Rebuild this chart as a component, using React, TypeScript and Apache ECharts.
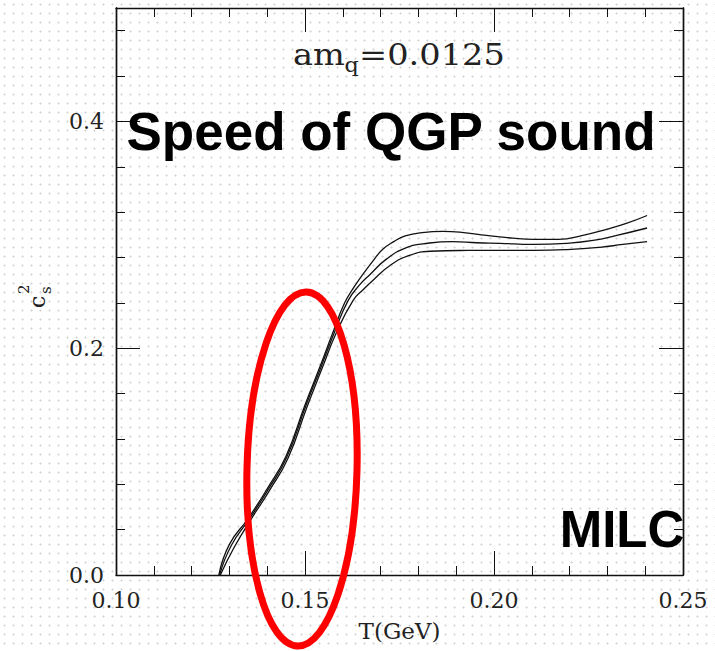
import React, { useEffect, useRef } from "react";
import * as echarts from "echarts";

// ---- data (T in GeV, c_s^2) ----
const tUpper = [0.1272, 0.13, 0.135, 0.14, 0.145, 0.15, 0.154, 0.1575, 0.1605, 0.163, 0.1655, 0.168, 0.1705, 0.1735, 0.1765, 0.181, 0.1865, 0.192, 0.198, 0.205, 0.2105, 0.217, 0.2235, 0.23, 0.235, 0.2405];
const cUpper = [0.0, 0.027, 0.05, 0.076, 0.105, 0.15, 0.184, 0.215, 0.24, 0.254, 0.266, 0.277, 0.287, 0.294, 0.299, 0.302, 0.303, 0.302, 0.2995, 0.297, 0.296, 0.296, 0.2995, 0.305, 0.31, 0.317];

const tMiddle = [0.1274, 0.1305, 0.1352, 0.1402, 0.1452, 0.1502, 0.1542, 0.1578, 0.1614, 0.1645, 0.1672, 0.1717, 0.177, 0.1812, 0.189, 0.1955, 0.2016, 0.2103, 0.2193, 0.2262, 0.2325, 0.2405];
const cMiddle = [0.0, 0.026, 0.049, 0.075, 0.104, 0.149, 0.183, 0.214, 0.242, 0.256, 0.265, 0.279, 0.289, 0.292, 0.294, 0.293, 0.2925, 0.2915, 0.2925, 0.295, 0.2995, 0.306];

const tLower = [0.1276, 0.1312, 0.1355, 0.1405, 0.1455, 0.1505, 0.1545, 0.1582, 0.1627, 0.1655, 0.168, 0.1725, 0.1778, 0.1831, 0.193, 0.2016, 0.2103, 0.2193, 0.228, 0.2341, 0.2405];
const cLower = [0.0, 0.024, 0.048, 0.074, 0.103, 0.148, 0.182, 0.213, 0.242, 0.252, 0.26, 0.273, 0.282, 0.2855, 0.2862, 0.2863, 0.2863, 0.287, 0.289, 0.2915, 0.294];

// axis ranges / ticks
const xRange = [0.1, 0.25];
const xMajorStep = 0.05;
const yRange = [0, 0.5];
const yMajorStep = 0.2;
const yMinorStep = 0.04;

// annotation texts
const headline = "Speed of QGP sound";
const groupLabel = "MILC";
const massMain = "am";
const massSub = "q";
const massValue = "=0.0125";
const xName = "T(GeV)";

const zip = (t: number[], c: number[]) => t.map((v, i) => [v, c[i]]);

const INK = "#111";
const SERIF = "DejaVu Serif";

export default function App() {
  const ref = useRef<HTMLDivElement>(null);

  useEffect(() => {
    if (!ref.current) return;
    const chart = echarts.init(ref.current, null, { renderer: "svg" });

    const lineAxis = { show: true, onZero: false, lineStyle: { color: INK, width: 1.4 } };
    const tickStyle = { color: INK, width: 1 };

    const xBase = (pos: "bottom" | "top", labels: boolean) => ({
      type: "value",
      position: pos,
      min: xRange[0],
      max: xRange[1],
      interval: xMajorStep,
      axisLine: lineAxis,
      axisTick: { show: true, inside: true, length: 24, lineStyle: tickStyle },
      minorTick: { show: true, splitNumber: 5, length: 9, lineStyle: tickStyle },
      splitLine: { show: false },
      minorSplitLine: { show: false },
      axisLabel: labels
        ? {
            show: true,
            margin: 14,
            fontFamily: SERIF,
            fontSize: 22,
            color: "#222",
            formatter: (v: number) => v.toFixed(2),
          }
        : { show: false },
      ...(labels
        ? {
            name: xName,
            nameLocation: "middle",
            nameGap: 44,
            nameTextStyle: { fontFamily: SERIF, fontSize: 23, color: "#222" },
          }
        : {}),
    });

    const yBase = (pos: "left" | "right", step: number, len: number, labels: boolean) => ({
      type: "value",
      position: pos,
      min: yRange[0],
      max: yRange[1],
      interval: step,
      axisLine: lineAxis,
      axisTick: { show: true, inside: true, length: len, lineStyle: tickStyle },
      splitLine: { show: false },
      axisLabel: labels
        ? {
            show: true,
            margin: 12,
            fontFamily: SERIF,
            fontSize: 22,
            color: "#222",
            formatter: (v: number) => (v > 0.45 ? "" : v.toFixed(1)),
          }
        : { show: false },
    });

    const seriesStyle = (data: number[][]) => ({
      type: "line",
      data,
      xAxisIndex: 0,
      yAxisIndex: 0,
      showSymbol: false,
      smooth: 0.5,
      lineStyle: { color: INK, width: 1.3 },
      z: 3,
    });

    chart.setOption({
      animation: false,
      backgroundColor: "transparent",
      grid: { left: 116, right: 32, top: 8, bottom: 76, containLabel: false },
      xAxis: [xBase("bottom", true), xBase("top", false)],
      yAxis: [
        yBase("left", yMajorStep, 24, true),
        yBase("left", yMinorStep, 9, false),
        yBase("right", yMajorStep, 24, false),
        yBase("right", yMinorStep, 9, false),
      ],
      series: [
        seriesStyle(zip(tUpper, cUpper)),
        seriesStyle(zip(tMiddle, cMiddle)),
        seriesStyle(zip(tLower, cLower)),
      ],
      graphic: [
        {
          type: "ellipse",
          z: 50,
          x: 302,
          y: 469,
          rotation: -0.025,
          shape: { cx: 0, cy: 0, rx: 55, ry: 177 },
          style: { fill: "none", stroke: "#ff0000", lineWidth: 7 },
        },
        {
          type: "text",
          z: 60,
          x: 391,
          y: 131,
          style: {
            text: headline,
            fontFamily: "Liberation Sans",
            fontWeight: "bold",
            fontSize: 53,
            fill: "#000",
            align: "center",
            verticalAlign: "middle",
          },
        },
        {
          type: "text",
          z: 60,
          x: 622,
          y: 529,
          style: {
            text: groupLabel,
            fontFamily: "Liberation Sans",
            fontWeight: "bold",
            fontSize: 51,
            fill: "#000",
            align: "center",
            verticalAlign: "middle",
          },
        },
        {
          type: "group",
          x: 293,
          y: 55,
          scaleX: 1.12,
          z: 60,
          children: [
            {
              type: "text",
              x: 0,
              y: 0,
              style: { text: massMain, fontFamily: SERIF, fontSize: 30, fill: "#222", align: "left", verticalAlign: "middle" },
            },
            {
              type: "text",
              x: 46,
              y: 10,
              style: { text: massSub, fontFamily: SERIF, fontSize: 20, fill: "#222", align: "left", verticalAlign: "middle" },
            },
            {
              type: "text",
              x: 59,
              y: 0,
              style: { text: massValue, fontFamily: SERIF, fontSize: 30, fill: "#222", align: "left", verticalAlign: "middle" },
            },
          ],
        },
        {
          type: "group",
          x: 37,
          y: 308,
          rotation: Math.PI / 2,
          z: 60,
          children: [
            {
              type: "text",
              x: 0,
              y: 0,
              style: { text: "c", fontFamily: SERIF, fontSize: 22, fill: "#222", align: "left", verticalAlign: "middle" },
            },
            {
              type: "text",
              x: 14,
              y: -13,
              style: { text: "2", fontFamily: SERIF, fontSize: 15, fill: "#222", align: "left", verticalAlign: "middle" },
            },
            {
              type: "text",
              x: 14,
              y: 9,
              style: { text: "s", fontFamily: SERIF, fontSize: 15, fill: "#222", align: "left", verticalAlign: "middle" },
            },
          ],
        },
      ],
    });

    return () => chart.dispose();
  }, []);

  return (
    <div
      ref={ref}
      style={{
        position: "fixed",
        left: 0,
        top: 0,
        width: 715,
        height: 651,
        backgroundColor: "#fff",
        backgroundImage: "radial-gradient(circle, #d4d4d4 0.8px, transparent 1.3px)",
        backgroundSize: "9px 9px",
      }}
    />
  );
}
